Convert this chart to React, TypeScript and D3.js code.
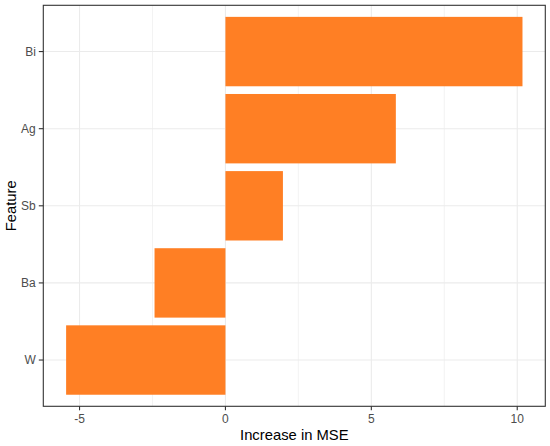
import * as d3 from "d3";
import { useEffect, useRef } from "react";

const features = ["Bi", "Ag", "Sb", "Ba", "W"];
const mseIncrease = [10.18, 5.84, 1.97, -2.43, -5.46];
const xTicks = [-5, 0, 5, 10];
const xMinorTicks = [-2.5, 2.5, 7.5];

const App: React.FC = () => {
  const svgRef = useRef<SVGSVGElement | null>(null);

  useEffect(() => {
    const width = 550;
    const height = 446;
    const margin = { top: 5.3, right: 4.7, bottom: 39.7, left: 43.3 };
    const fontFamily = "Arial, 'Liberation Sans', sans-serif";

    const svg = d3.select(svgRef.current);
    svg.selectAll("*").remove();

    const data = features.map((f, i) => ({ feature: f, value: mseIncrease[i] }));

    const lo = d3.min(mseIncrease)!;
    const hi = d3.max(mseIncrease)!;
    const pad = (hi - lo) * 0.05;

    const x = d3
      .scaleLinear()
      .domain([lo - pad, hi + pad])
      .range([margin.left, width - margin.right]);

    // ggplot-style discrete axis: 0.6 units of padding at each end
    const n = features.length;
    const plotTop = margin.top;
    const plotBottom = height - margin.bottom;
    const step = (plotBottom - plotTop) / (n - 1 + 1.2);
    const yCenter = (f: string) => plotTop + step * (0.6 + features.indexOf(f));
    const barH = step * 0.9;

    svg.append("rect")
      .attr("width", width)
      .attr("height", height)
      .attr("fill", "#ffffff");

    const grid = svg.append("g");
    grid
      .selectAll("line.minor")
      .data(xMinorTicks)
      .enter()
      .append("line")
      .attr("x1", (d) => x(d))
      .attr("x2", (d) => x(d))
      .attr("y1", plotTop)
      .attr("y2", plotBottom)
      .attr("stroke", "#ebebeb")
      .attr("stroke-width", 0.6);
    grid
      .selectAll("line.major")
      .data(xTicks)
      .enter()
      .append("line")
      .attr("x1", (d) => x(d))
      .attr("x2", (d) => x(d))
      .attr("y1", plotTop)
      .attr("y2", plotBottom)
      .attr("stroke", "#ebebeb")
      .attr("stroke-width", 1.1);
    grid
      .selectAll("line.y")
      .data(features)
      .enter()
      .append("line")
      .attr("x1", margin.left)
      .attr("x2", width - margin.right)
      .attr("y1", (d) => yCenter(d))
      .attr("y2", (d) => yCenter(d))
      .attr("stroke", "#ebebeb")
      .attr("stroke-width", 1.1);

    svg
      .selectAll("rect.bar")
      .data(data)
      .enter()
      .append("rect")
      .attr("class", "bar")
      .attr("x", (d) => x(Math.min(0, d.value)))
      .attr("width", (d) => Math.abs(x(d.value) - x(0)))
      .attr("y", (d) => yCenter(d.feature) - barH / 2)
      .attr("height", barH)
      .attr("fill", "#ff7f24");

    svg.append("rect")
      .attr("x", margin.left)
      .attr("y", plotTop)
      .attr("width", width - margin.right - margin.left)
      .attr("height", plotBottom - plotTop)
      .attr("fill", "none")
      .attr("stroke", "#333333")
      .attr("stroke-width", 1.1);

    // x axis ticks + labels
    const xAxis = svg.append("g");
    xTicks.forEach((t) => {
      xAxis.append("line")
        .attr("x1", x(t))
        .attr("x2", x(t))
        .attr("y1", plotBottom)
        .attr("y2", plotBottom + 4)
        .attr("stroke", "#333333")
        .attr("stroke-width", 1.1);
      xAxis.append("text")
        .attr("x", x(t))
        .attr("y", plotBottom + 17)
        .attr("text-anchor", "middle")
        .attr("font-family", fontFamily)
        .attr("font-size", 12)
        .attr("fill", "#4d4d4d")
        .text(t);
    });

    // y axis ticks + labels
    const yAxis = svg.append("g");
    features.forEach((f) => {
      yAxis.append("line")
        .attr("x1", margin.left - 4.5)
        .attr("x2", margin.left)
        .attr("y1", yCenter(f))
        .attr("y2", yCenter(f))
        .attr("stroke", "#333333")
        .attr("stroke-width", 1.1);
      yAxis.append("text")
        .attr("x", margin.left - 7.5)
        .attr("y", yCenter(f))
        .attr("dy", "0.35em")
        .attr("text-anchor", "end")
        .attr("font-family", fontFamily)
        .attr("font-size", 12)
        .attr("fill", "#4d4d4d")
        .text(f);
    });

    svg.append("text")
      .attr("x", (margin.left + width - margin.right) / 2)
      .attr("y", height - 6)
      .attr("text-anchor", "middle")
      .attr("font-family", fontFamily)
      .attr("font-size", 14.8)
      .attr("fill", "#000000")
      .text("Increase in MSE");

    svg.append("text")
      .attr("transform", `translate(15.5,${(plotTop + plotBottom) / 2}) rotate(-90)`)
      .attr("text-anchor", "middle")
      .attr("font-family", fontFamily)
      .attr("font-size", 14.8)
      .attr("fill", "#000000")
      .text("Feature");
  }, []);

  return (
    <svg
      ref={svgRef}
      width={550}
      height={446}
      style={{ position: "absolute", left: 0, top: 0, display: "block" }}
    />
  );
};

export default App;
